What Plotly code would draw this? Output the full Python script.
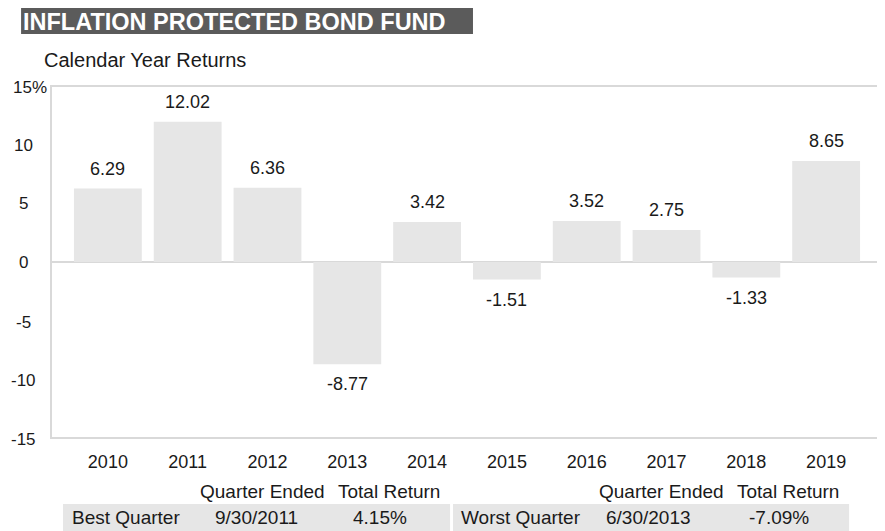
import plotly.graph_objects as go

# ---- data ----
years = ["2010", "2011", "2012", "2013", "2014", "2015", "2016", "2017", "2018", "2019"]
returns = [6.29, 12.02, 6.36, -8.77, 3.42, -1.51, 3.52, 2.75, -1.33, 8.65]
y_ticks = [-15, -10, -5, 0, 5, 10, 15]
y_tick_labels = ["-15", "-10", "-5", "0", "5", "10", "15%"]
title_text = "INFLATION PROTECTED BOND FUND"
subtitle_text = "Calendar Year Returns"
table_headers = ["Quarter Ended", "Total Return"]
best_row = ["Best Quarter", "9/30/2011", "4.15%"]
worst_row = ["Worst Quarter", "6/30/2013", "-7.09%"]

FONT = "Liberation Sans, Arial, Helvetica, sans-serif"
TXT = "#1a1a1a"
OFF = 8  # page body margin
W, H = 885 - OFF, 531 - OFF
# plot area in screen pixels
SL, SR, ST, SB = 52, 882, 87, 437
L, T = SL - OFF, ST - OFF
R, B = W - (SR - OFF), H - (SB - OFF)
PW, PH = W - L - R, H - T - B


def px(x):
    return (x - OFF - L) / PW


def py(y):
    return (H - B - (y - OFF)) / PH


fig = go.Figure()
fig.add_trace(go.Bar(
    x=list(range(len(years))), y=returns,
    marker=dict(color="#e6e6e6", line=dict(width=0)),
    width=0.85, hoverinfo="skip", showlegend=False,
))

annotations = []
# value labels
for i, v in enumerate(returns):
    annotations.append(dict(
        x=i, y=v, xref="x", yref="y", text=f"{v:.2f}", showarrow=False,
        xanchor="center", yanchor="middle", yshift=20 if v >= 0 else -20,
        font=dict(family=FONT, size=18, color=TXT),
    ))
# y tick labels
for v, lab in zip(y_ticks, y_tick_labels):
    if lab.endswith("%"):
        annotations.append(dict(
            x=px(11), y=v, xref="paper", yref="y", text=lab, showarrow=False,
            xanchor="left", yanchor="middle", font=dict(family=FONT, size=17, color=TXT),
        ))
    else:
        annotations.append(dict(
            x=px(23), y=v, xref="paper", yref="y", text=lab, showarrow=False,
            xanchor="center", yanchor="middle", yshift=-2 if v < 0 else 0,
            font=dict(family=FONT, size=17, color=TXT),
        ))

# title
annotations.append(dict(
    x=px(22), y=py(OFF), xref="paper", yref="paper", text=f"<b>{title_text}</b>",
    showarrow=False, xanchor="left", yanchor="top", borderpad=0,
    font=dict(family=FONT, size=23.5, color="white"),
))
annotations.append(dict(
    x=px(42), y=py(60), xref="paper", yref="paper", text=subtitle_text,
    showarrow=False, xanchor="left", yanchor="middle",
    font=dict(family=FONT, size=20, color=TXT),
))

# table
head_centers = [[263, 390], [663, 790]]
row_centers = [[126, 257, 381], [522, 650, 781]]
for hc in head_centers:
    for txt, cx in zip(table_headers, hc):
        annotations.append(dict(
            x=px(cx), y=py(492), xref="paper", yref="paper", text=txt,
            showarrow=False, xanchor="center", yanchor="middle",
            font=dict(family=FONT, size=19, color=TXT),
        ))
for row, rc in zip([best_row, worst_row], row_centers):
    for txt, cx in zip(row, rc):
        annotations.append(dict(
            x=px(cx), y=py(518), xref="paper", yref="paper", text=txt,
            showarrow=False, xanchor="center", yanchor="middle",
            font=dict(family=FONT, size=19, color=TXT),
        ))

shapes = [
    dict(type="rect", xref="paper", yref="paper", x0=px(21), x1=px(474),
         y0=py(34), y1=py(OFF), fillcolor="#5b5b5b", line=dict(width=0), layer="below"),
    dict(type="rect", xref="paper", yref="paper", x0=px(63), x1=px(451),
         y0=py(531), y1=py(504), fillcolor="#e6e6e6", line=dict(width=0), layer="below"),
    dict(type="rect", xref="paper", yref="paper", x0=px(454), x1=px(851),
         y0=py(531), y1=py(504), fillcolor="#e6e6e6", line=dict(width=0), layer="below"),
    dict(type="line", xref="paper", yref="y", x0=0, x1=1, y0=0, y1=0,
         line=dict(color="#d9d9d9", width=2), layer="below"),
]

fig.update_layout(
    width=W, height=H,
    margin=dict(l=L, r=R, t=T, b=B, pad=0),
    paper_bgcolor="white", plot_bgcolor="white",
    bargap=0.15,
    annotations=annotations, shapes=shapes,
    xaxis=dict(
        range=[-0.7, 9.675], tickmode="array", tickvals=list(range(len(years))),
        ticktext=years, showgrid=False, zeroline=False,
        showline=True, mirror=True, linecolor="#d9d9d9", linewidth=2,
        ticks="", ticklabelstandoff=7,
        tickfont=dict(family=FONT, size=18, color=TXT), fixedrange=True,
    ),
    yaxis=dict(
        range=[-15, 15], showticklabels=False, showgrid=False, zeroline=False,
        showline=True, mirror=True, linecolor="#d9d9d9", linewidth=2,
        ticks="", fixedrange=True,
    ),
)

fig.write_html("out.html")
